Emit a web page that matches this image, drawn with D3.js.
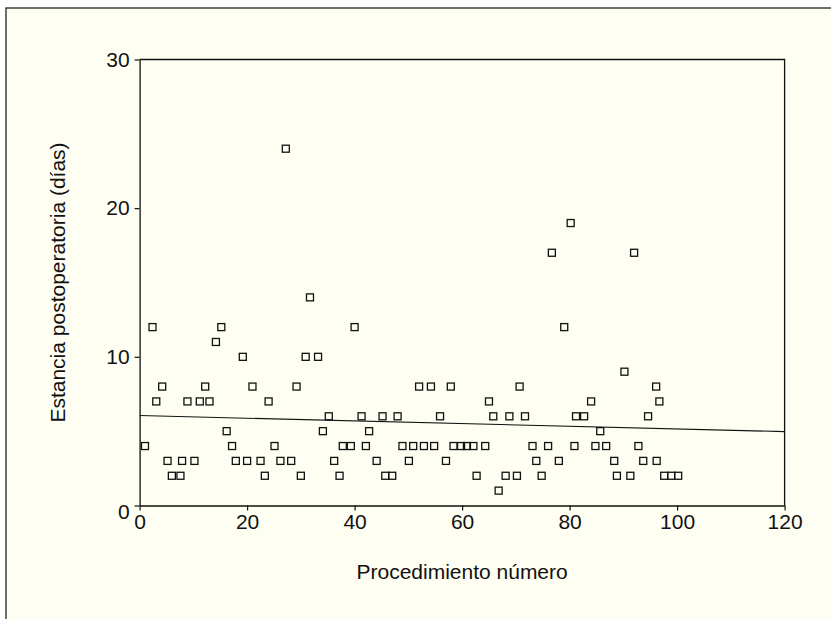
<!DOCTYPE html>
<html><head><meta charset="utf-8">
<script src="https://cdn.jsdelivr.net/npm/d3@7"></script>
<style>
html,body{margin:0;padding:0;background:#ffffff;}
svg{display:block;}
text{font-family:"Liberation Sans",Arial,Helvetica,sans-serif;fill:#111;}
</style></head>
<body>
<script>
// Data
const procedure = [1,2.4,3.1,4.2,5.2,6.0,7.6,7.9,8.9,10.2,11.2,12.2,13,14.2,15.2,16.2,17.2,17.9,19.2,20,21,22.5,23.3,24,25.1,26.2,27.2,28.2,29.2,30,30.9,
  31.7,33.2,34.1,35.2,36.2,37.2,37.8,39.3,40,41.3,42.1,42.7,44.1,45.2,45.7,47,48,48.9,50.1,50.9,52,52.9,54.2,54.8,55.9,57,57.9,58.4,59.8,60.9,62.1,62.7,
  64.3,65,65.8,66.8,68.1,68.8,70.2,70.7,71.7,73.1,73.8,74.8,76,76.7,78,79,80.2,80.9,81.2,82.7,84,84.8,85.7,86.8,88.3,88.8,90.2,91.3,92,92.8,93.7,94.6,96.1,96.2,96.7,97.6,98.9,100.2];
const stayDays = [4,12,7,8,3,2,2,3,7,3,7,8,7,11,12,5,4,3,10,3,8,3,2,7,4,3,24,3,8,2,10,
  14,10,5,6,3,2,4,4,12,6,4,5,3,6,2,2,6,4,3,4,8,4,8,4,6,3,8,4,4,4,4,2,
  4,7,6,1,2,6,2,8,6,4,3,2,4,17,3,12,19,4,6,6,7,4,5,4,3,2,9,2,17,4,3,6,8,3,7,2,2,2];
const fitX = [0, 120];
const fitY = [6.05, 4.97];
const xTicks = [0,20,40,60,80,100,120];
const yTicks = [0,10,20,30];
const xTitle = "Procedimiento número";
const yTitle = "Estancia postoperatoria (días)";

const W = 831, H = 619;
const svg = d3.select("body").append("svg").attr("width", W).attr("height", H);

// panel background and border (left + top visible)
svg.append("rect").attr("x", 6).attr("y", 8).attr("width", W).attr("height", H)
  .attr("fill", "#fefef3").attr("stroke", "#222").attr("stroke-width", 1.3);

const x = d3.scaleLinear().domain([0, 120]).range([139.6, 784.6]);
const y = d3.scaleLinear().domain([0, 30]).range([505.5, 59.5]);

// frame (top and right)
svg.append("path")
  .attr("d", `M${x(0)},${y(30)}H${x(120)}V${y(0)}`)
  .attr("fill", "none").attr("stroke", "#111").attr("stroke-width", 1.3);

const xAxis = svg.append("g").attr("transform", `translate(0,${y(0)})`)
  .call(d3.axisBottom(x).tickValues(xTicks).tickSize(5).tickSizeOuter(0).tickPadding(4));
const yAxis = svg.append("g").attr("transform", `translate(${x(0)},0)`)
  .call(d3.axisLeft(y).tickValues(yTicks).tickSize(5).tickSizeOuter(0).tickPadding(5));
[xAxis, yAxis].forEach(g => {
  g.select(".domain").attr("stroke", "#111").attr("stroke-width", 1.3);
  g.selectAll(".tick line").attr("stroke", "#111").attr("stroke-width", 1.2);
  g.selectAll("text").attr("font-size", 21).attr("fill", "#111")
    .attr("font-family", '"Liberation Sans",Arial,sans-serif');
});
yAxis.selectAll(".tick").filter(d => d === 0).select("text").attr("dy", "0.62em");

// titles
svg.append("text").attr("x", (x(0) + x(120)) / 2).attr("y", 579)
  .attr("text-anchor", "middle").attr("font-size", 21).text(xTitle);
svg.append("text").attr("transform", `translate(65,${(y(0)+y(30))/2}) rotate(-90)`)
  .attr("text-anchor", "middle").attr("font-size", 21).text(yTitle);

// regression line
svg.append("line")
  .attr("x1", x(fitX[0])).attr("y1", y(fitY[0]))
  .attr("x2", x(fitX[1])).attr("y2", y(fitY[1]))
  .attr("stroke", "#111").attr("stroke-width", 1.1);

// points
const s = 7;
svg.append("g").selectAll("rect").data(procedure.map((p, i) => [p, stayDays[i]]))
  .join("rect")
  .attr("x", d => x(d[0]) - s / 2).attr("y", d => y(d[1]) - s / 2)
  .attr("width", s).attr("height", s)
  .attr("fill", "none").attr("stroke", "#111").attr("stroke-width", 1.3);
</script>
</body></html>
